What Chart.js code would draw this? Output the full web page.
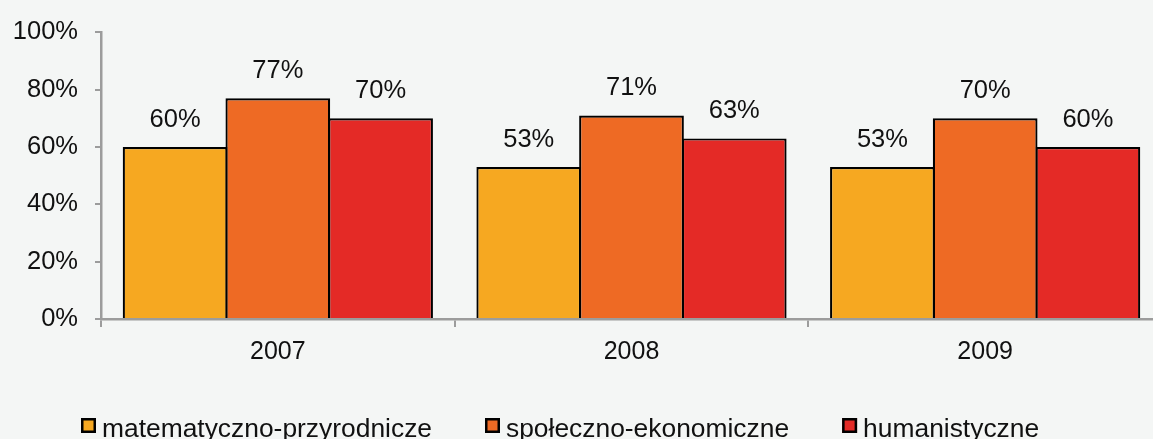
<!DOCTYPE html>
<html lang="pl">
<head>
<meta charset="utf-8">
<title>Wyniki 2007-2009</title>
<script src="https://cdn.jsdelivr.net/npm/chart.js@4.4.1/dist/chart.umd.min.js"></script>
<style>
  html, body { margin: 0; padding: 0; background: #f4f6f5; overflow: hidden; }
  #wrap { position: relative; width: 1162px; height: 439px; }
</style>
</head>
<body>
<div id="wrap"><canvas id="chart"></canvas></div>
<script>
const years = ["2007", "2008", "2009"];
const seriesNames = ["matematyczno-przyrodnicze", "społeczno-ekonomiczne", "humanistyczne"];
const matPrzyr = [60, 53, 53];
const spolEkon = [77, 71, 70];
const human = [70, 63, 60];
const yTicks = [0, 20, 40, 60, 80, 100];

const colors = ["#f6a821", "#ee6a24", "#e42a26"];
const FONT = "'Liberation Sans', Arial, sans-serif";
const axisGray = "#9c9c9c";

// percentage labels above each bar
const valueLabels = {
  id: "valueLabels",
  afterDatasetsDraw(chart) {
    const ctx = chart.ctx;
    ctx.save();
    ctx.font = "25.5px " + FONT;
    ctx.fillStyle = "#111";
    ctx.textAlign = "center";
    ctx.textBaseline = "alphabetic";
    chart.data.datasets.forEach((ds, i) => {
      chart.getDatasetMeta(i).data.forEach((bar, j) => {
        ctx.fillText(ds.data[j] + "%", bar.x, bar.y - 20);
      });
    });
    ctx.restore();
  }
};

// legend row along the bottom edge (tight box/text spacing)
const bottomLegend = {
  id: "bottomLegend",
  afterDraw(chart) {
    const ctx = chart.ctx;
    ctx.save();
    ctx.font = "26.4px " + FONT;
    ctx.textBaseline = "alphabetic";
    let x = 81;
    chart.data.datasets.forEach((ds) => {
      ctx.fillStyle = ds.backgroundColor;
      ctx.fillRect(x, 418, 15, 15);
      ctx.strokeStyle = "#000";
      ctx.lineWidth = 2.5;
      ctx.strokeRect(x + 1.25, 419.25, 12.5, 12.5);
      ctx.fillStyle = "#111";
      ctx.fillText(ds.label, x + 21, 437);
      x += 21 + ctx.measureText(ds.label).width + 53;
    });
    ctx.restore();
  }
};

const seriesData = [matPrzyr, spolEkon, human];

new Chart(document.getElementById("chart"), {
  type: "bar",
  data: {
    labels: years,
    datasets: seriesNames.map((name, i) => ({
      label: name,
      data: seriesData[i],
      backgroundColor: colors[i],
      borderColor: "#000",
      borderWidth: 2.2,
      categoryPercentage: 0.8715,
      barPercentage: 1.0195
    }))
  },
  options: {
    responsive: true,
    maintainAspectRatio: false,
    animation: false,
    layout: { padding: { top: 30, left: 0, right: 0, bottom: 0 } },
    plugins: {
      legend: { display: false },
      tooltip: { enabled: false }
    },
    scales: {
      x: {
        grid: {
          offset: true,
          drawOnChartArea: false,
          tickLength: 8,
          color: axisGray,
          lineWidth: 2
        },
        border: { color: axisGray, width: 2.5 },
        ticks: {
          color: "#111",
          font: { family: FONT, size: 25 },
          padding: 10
        },
        afterFit(scale) { scale.height = 120; }
      },
      y: {
        min: 0,
        max: 100,
        afterBuildTicks(scale) { scale.ticks = yTicks.map(v => ({ value: v })); },
        grid: {
          drawOnChartArea: false,
          tickLength: 6,
          color: axisGray,
          lineWidth: 2
        },
        border: { color: axisGray, width: 2.5 },
        ticks: {
          color: "#111",
          font: { family: FONT, size: 25.5 },
          padding: 17,
          callback: (v) => v + "%"
        },
        afterFit(scale) { scale.width = 101; }
      }
    }
  },
  plugins: [valueLabels, bottomLegend]
});
</script>
</body>
</html>
